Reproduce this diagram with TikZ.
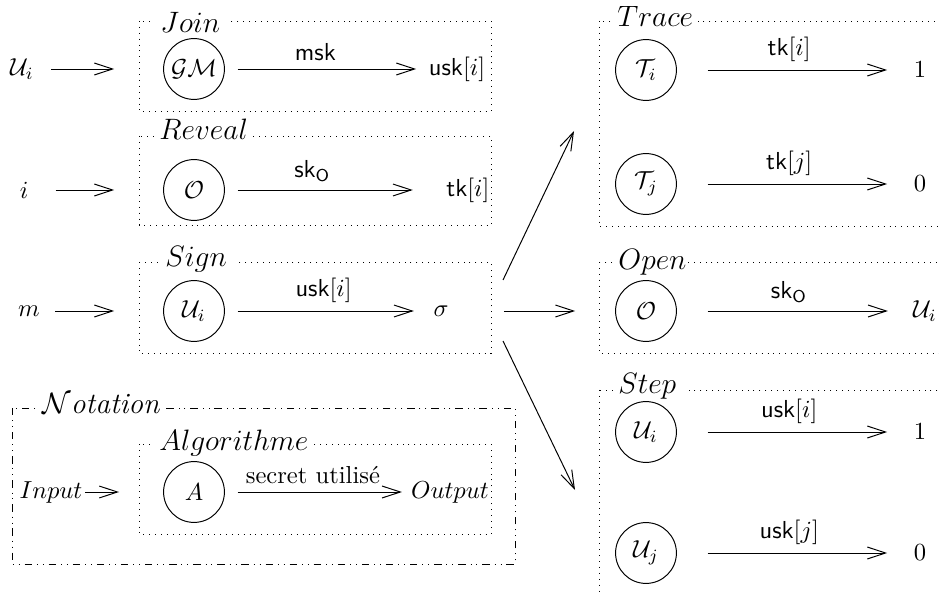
\documentclass[tikz,border=0pt]{standalone}
\usetikzlibrary{arrows.meta}

\begin{document}
\begin{tikzpicture}[x=0.0143cm, y=-0.0143cm,
    agent/.style={circle, draw, minimum size=0.87cm, inner sep=1pt},
    word/.style={inner sep=1pt},
    title/.style={anchor=base west, fill=white, inner sep=2pt, font=\large},
    short/.style={title, text width=0.92cm},
    frame/.style={dotted},
    legend/.style={dash dot dot},
    arrow/.style={-{Straight Barb[length=2.6mm, width=1.7mm]}}]

    \useasboundingbox (0,0) rectangle (939,593);
    \clip (0,0) rectangle (939,593);

    % Join
    \draw[frame] (139,21) rectangle (491,111);
    \node[short] at (155,33) {$Join$};
    \node[word] (inU) at (22,69) {$\mathcal{U}_i$};
    \node[agent] (gm) at (194,69) {$\mathcal{GM}$};
    \node[word] (usk) at (457,69) {$\mathsf{usk}[i]$};
    \draw[arrow, shorten <=0.21cm, shorten >=0.70cm] (inU) -- (gm);
    \draw[arrow, shorten <=0.18cm, shorten >=0.14cm] (gm) -- node[above, pos=0.45] {$\mathsf{msk}$} (usk);

    % Reveal
    \draw[frame] (139,136) rectangle (491,225);
    \node[title] at (154,140) {$Reveal$};
    \node[word] (ini) at (24,190) {$i$};
    \node[agent] (orv) at (194,190) {$\mathcal{O}$};
    \node[word] (tki) at (468,190) {$\mathsf{tk}[i]$};
    \draw[arrow, shorten <=0.35cm, shorten >=0.70cm] (ini) -- (orv);
    \draw[arrow, shorten <=0.18cm, shorten >=0.44cm] (orv) -- node[above, pos=0.4] {$\mathsf{sk}_{\mathsf{O}}$} (tki);

    % Sign
    \draw[frame] (139,262) rectangle (491,353);
    \node[short] at (160,267) {$Sign$};
    \node[word] (inm) at (29,311) {$m$};
    \node[agent] (usr) at (194,311) {$\mathcal{U}_i$};
    \node[word] (sig) at (441,311) {$\sigma$};
    \draw[arrow, shorten <=0.18cm, shorten >=0.70cm] (inm) -- (usr);
    \draw[arrow, shorten <=0.18cm, shorten >=0.24cm] (usr) -- node[above, pos=0.48] {$\mathsf{usk}[i]$} (sig);

    % Notation
    \draw[legend] (12,408) rectangle (515,564);
    \node[title] at (37,413) {$\mathcal{N}$\textit{otation}};
    \draw[frame] (139,444) rectangle (491,534);
    \node[title] at (154,450) {$Algorithme$};
    \node[word] (inp) at (51,492) {$Input$};
    \node[agent] (alg) at (194,492) {$A$};
    \node[word] (outp) at (450,492) {$Output$};
    \draw[arrow, shorten >=0.63cm] (inp) -- (alg);
    \draw[arrow, shorten <=0.18cm, shorten >=0.09cm] (alg) -- node[above, pos=0.48] {secret utilisé} (outp);

    % from the signature
    \coordinate (fkT) at (503,280);
    \coordinate (fkS) at (503,341);
    \coordinate (toT) at (574,131);
    \coordinate (toS) at (575,490);
    \draw[arrow] (fkT) -- (toT);
    \draw[arrow] (fkS) -- (toS);

    % Trace
    \draw[frame] (599,21) rectangle (960,226);
    \node[title] at (612,27) {$Trace$};
    \node[agent] (tri) at (646,70) {$\mathcal{T}_i$};
    \node[word] (tro) at (920,70) {$1$};
    \node[agent] (trj) at (646,184) {$\mathcal{T}_j$};
    \node[word] (trz) at (920,184) {$0$};
    \draw[arrow, shorten <=0.44cm, shorten >=0.34cm] (tri) -- node[above, pos=0.48] {$\mathsf{tk}[i]$} (tro);
    \draw[arrow, shorten <=0.44cm, shorten >=0.34cm] (trj) -- node[above, pos=0.48] {$\mathsf{tk}[j]$} (trz);

    % Open
    \draw[frame] (599,262) rectangle (960,353);
    \node[short] at (613,269) {$Open$};
    \node[agent] (opo) at (646,311) {$\mathcal{O}$};
    \node[word] (opu) at (925,311) {$\mathcal{U}_i$};
    \draw[arrow, shorten <=0.75cm, shorten >=0.57cm] (sig) -- (opo);
    \draw[arrow, shorten <=0.44cm, shorten >=0.32cm] (opo) -- node[above, pos=0.48] {$\mathsf{sk}_{\mathsf{O}}$} (opu);

    % Step
    \draw[frame] (599,390) rectangle (960,620);
    \node[short] at (613,394) {$Step$};
    \node[agent] (sti) at (646,432) {$\mathcal{U}_i$};
    \node[word] (sto) at (920,432) {$1$};
    \node[agent] (stj) at (646,553) {$\mathcal{U}_j$};
    \node[word] (stz) at (920,553) {$0$};
    \draw[arrow, shorten <=0.44cm, shorten >=0.34cm] (sti) -- node[above, pos=0.48] {$\mathsf{usk}[i]$} (sto);
    \draw[arrow, shorten <=0.44cm, shorten >=0.34cm] (stj) -- node[above, pos=0.48] {$\mathsf{usk}[j]$} (stz);
\end{tikzpicture}
\end{document}
